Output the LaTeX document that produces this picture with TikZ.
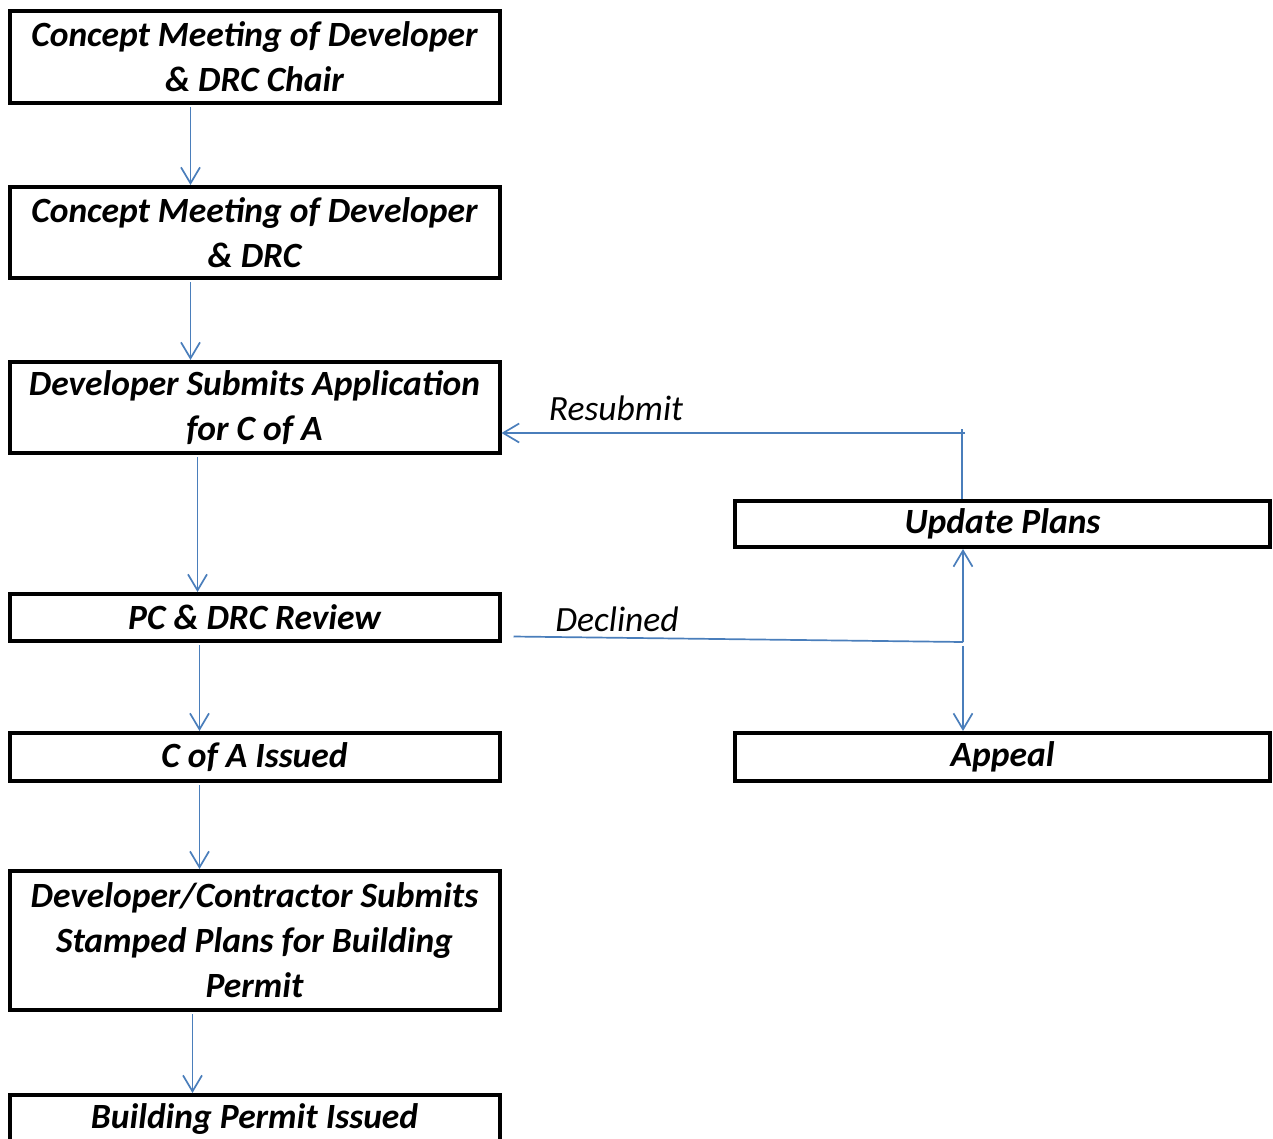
\documentclass[tikz,border=0pt]{standalone}
\usepackage{fontspec}
\setmainfont{Carlito}
\usetikzlibrary{arrows.meta}
\definecolor{linkblue}{HTML}{4A7EBB}

\begin{document}
\begin{tikzpicture}[x=1pt,y=-1pt,
    box/.style={draw,line width=4pt,inner sep=0pt,align=center,minimum width=490pt,
        font=\bfseries\itshape\fontsize{35.5}{45}\selectfont},
    sidebox/.style={box,minimum width=535pt,minimum height=46pt},
    flow/.style={linkblue,line width=1.7pt,-{Straight Barb[length=16pt,width=19pt]}},
    link/.style={linkblue,line width=1.7pt},
    tag/.style={font=\itshape\fontsize{35.5}{42}\selectfont}]

\useasboundingbox (0,0) rectangle (1273,1138);

\node[box,minimum height=92pt] (chair) at (254.5,57) {Concept Meeting of Developer\\\& DRC Chair};
\node[box,minimum height=91pt] (drc) at (254.5,232.5) {Concept Meeting of Developer\\\& DRC};
\node[box,minimum height=91pt] (apply) at (254.5,407.5) {Developer Submits Application\\for C of A};
\node[box,minimum height=47pt] (review) at (254.5,617.5) {PC \& DRC Review};
\node[box,minimum height=48pt] (issued) at (254.5,757) {C of A Issued};
\node[box,minimum height=139pt] (permit) at (254.5,940.5) {Developer/Contractor Submits\\Stamped Plans for Building\\Permit};
\node[box,minimum height=48pt] (bpi) at (254.5,1119) {Building Permit Issued};

\node[sidebox] (update) at (1002.5,524) {Update Plans};
\node[sidebox,minimum height=48pt] (appeal) at (1002.5,757) {Appeal};

\node[tag] (resub) at (616,408) {Resubmit};
\node[tag] (decl) at (617,619) {Declined};

% main chain
\foreach \a/\b/\dx in {chair/drc/-64,drc/apply/-64,apply/review/-57,review/issued/-55,issued/permit/-55,permit/bpi/-62}
{
    \draw[flow] ([xshift=\dx pt,yshift=-2pt]\a.south) -- ([xshift=\dx pt]\b.north);
}

\coordinate (split) at (963,642);
\coordinate (turn) at (962,429);
\coordinate (back) at (965,433);

\draw[link] ([xshift=12pt,yshift=-19pt]review.east) -- (split);
\draw[flow] (split) -- (update.south -| split);
\draw[flow] ([yshift=-4pt]split) -- (appeal.north -| split);
\draw[link] (update.north -| turn) -- (turn);
\draw[flow] (back) -- (back -| apply.east);

\end{tikzpicture}
\end{document}
